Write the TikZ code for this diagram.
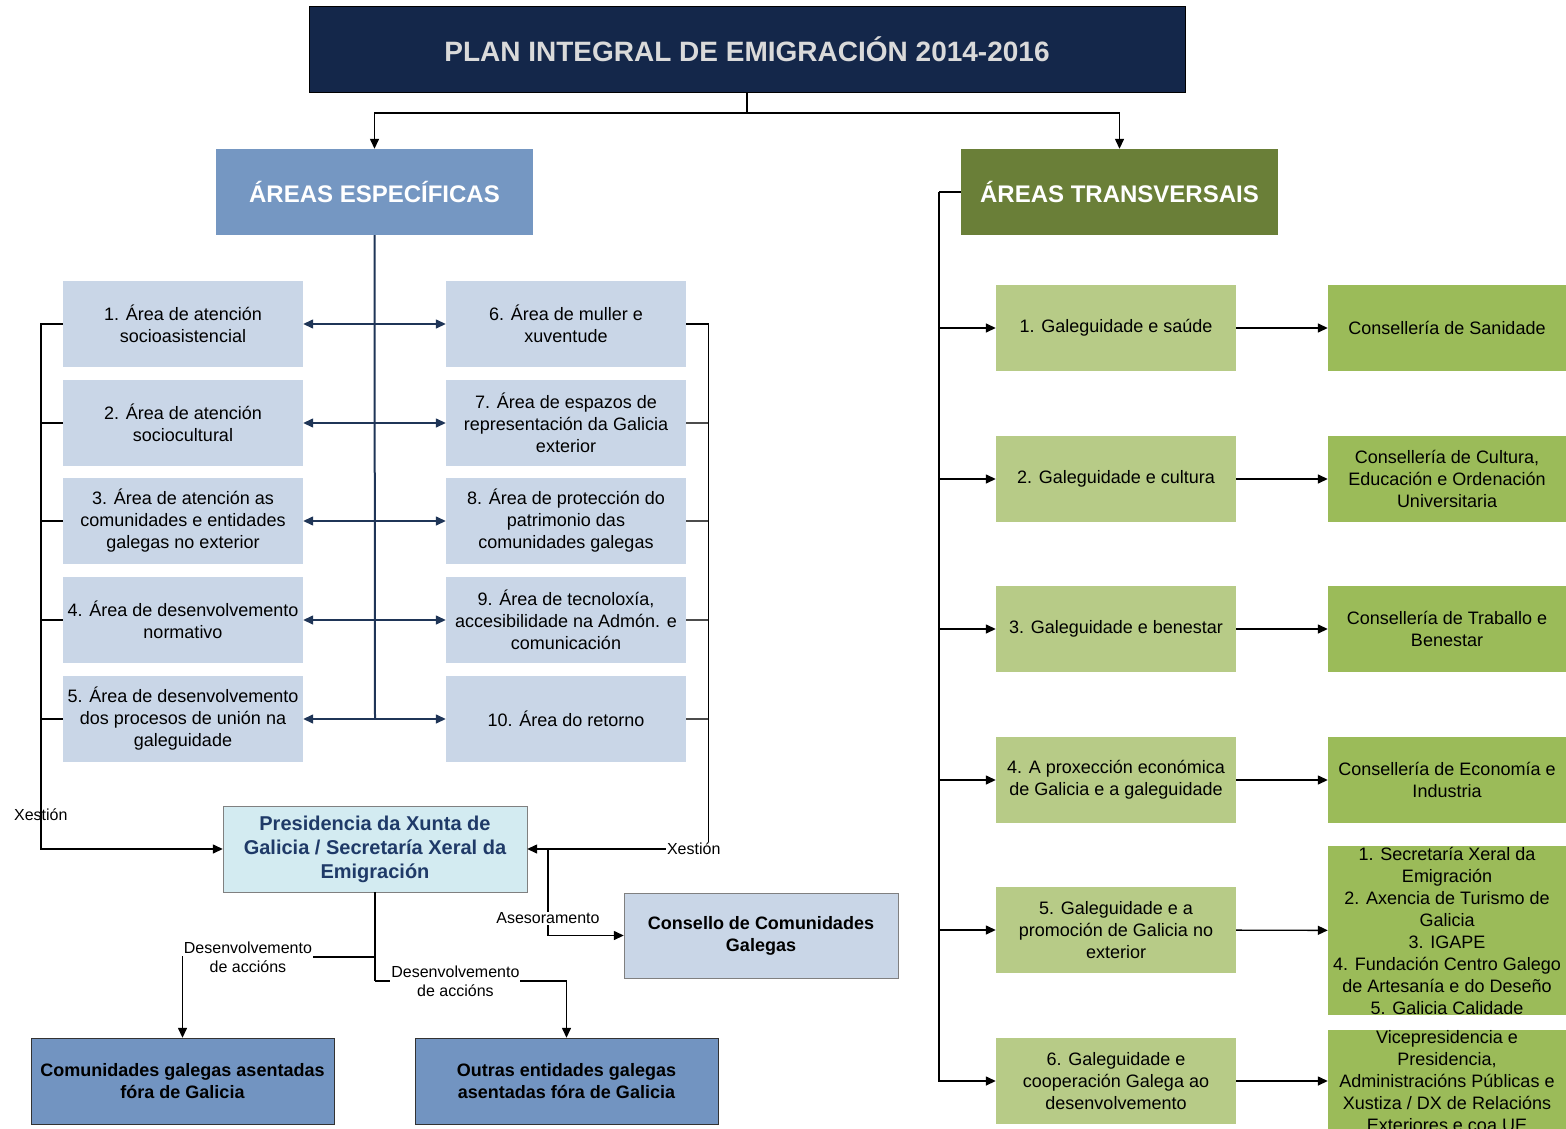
\documentclass[tikz,border=0pt]{standalone}
\usepackage{fontspec}
\setmainfont{Liberation Sans}
\usetikzlibrary{arrows.meta,positioning}
\definecolor{plannavy}{HTML}{14274A}
\definecolor{plangrey}{HTML}{DADADA}
\definecolor{espblue}{HTML}{7597C2}
\definecolor{transgreen}{HTML}{6A7F38}
\definecolor{arealight}{HTML}{C9D6E7}
\definecolor{prescyan}{HTML}{D3EBF1}
\definecolor{presnavy}{HTML}{1F3A68}
\definecolor{comblue}{HTML}{7294C1}
\definecolor{galight}{HTML}{B7CB87}
\definecolor{gadark}{HTML}{9BBB59}
\definecolor{linknavy}{HTML}{1F3557}
\tikzset{%
	titlebox/.style = {draw=black, fill=plannavy, text=plangrey, minimum width=876pt, minimum height=86pt, font=\bfseries\fontsize{28}{32}\selectfont},
	headbox/.style  = {text=white, minimum width=317pt, minimum height=86pt, font=\bfseries\fontsize{24}{28}\selectfont},
	areabox/.style  = {fill=arealight, minimum width=240pt, minimum height=86pt, align=center, inner sep=0pt, font=\fontsize{18}{22}\selectfont},
	presbox/.style  = {draw=gray, fill=prescyan, text=presnavy, minimum width=304pt, minimum height=86pt, align=center, font=\bfseries\fontsize{20}{24}\selectfont},
	actorbox/.style = {draw=black!80, fill=comblue, minimum width=303pt, minimum height=86pt, align=center, font=\bfseries\fontsize{18}{22}\selectfont},
	galebox/.style  = {fill=galight, minimum width=240pt, minimum height=86pt, align=center, inner sep=0pt, font=\fontsize{18}{22}\selectfont},
	consbox/.style  = {fill=gadark, minimum width=238pt, minimum height=86pt, align=center, inner sep=0pt, font=\fontsize{18}{22}\selectfont},
	lbl/.style      = {align=center, inner sep=1pt, font=\fontsize{16}{19}\selectfont},
	link/.style     = {line width=1.4pt},
	spine/.style    = {line width=2pt, draw=linknavy},
}

\begin{document}
\begin{tikzpicture}[x=1pt,y=-1pt,>={Triangle[length=10pt,width=9pt]}]
	\useasboundingbox (0,0) rectangle (1566,1129);

	\node [titlebox] (plan) at (747,49) {PLAN INTEGRAL DE EMIGRACIÓN 2014-2016};
	\node [headbox,fill=espblue] (esp) at (374.5,192) {ÁREAS ESPECÍFICAS};
	\node [headbox,fill=transgreen] (trans) at (1119.5,192) {ÁREAS TRANSVERSAIS};
	\coordinate (fork) at (747,113);

	% areas especificas
	\node [areabox] (a1) at (183,324) {1. Área de atención\\socioasistencial};
	\node [areabox] (a2) at (183,423) {2. Área de atención\\sociocultural};
	\node [areabox] (a3) at (183,521) {3. Área de atención as\\comunidades e entidades\\galegas no exterior};
	\node [areabox] (a4) at (183,620) {4. Área de desenvolvemento\\normativo};
	\node [areabox] (a5) at (183,719) {5. Área de desenvolvemento\\dos procesos de unión na\\galeguidade};
	\node [areabox] (a6) at (566,324) {6. Área de muller e\\xuventude};
	\node [areabox] (a7) at (566,423) {7. Área de espazos de\\representación da Galicia\\exterior};
	\node [areabox] (a8) at (566,521) {8. Área de protección do\\patrimonio das\\comunidades galegas};
	\node [areabox] (a9) at (566,620) {9. Área de tecnoloxía,\\accesibilidade na Admón. e\\comunicación};
	\node [areabox] (a10) at (566,719) {10. Área do retorno};
	\coordinate (spinend) at (375,719);

	\node [presbox] (pres) at (375,849) {Presidencia da Xunta de\\Galicia / Secretaría Xeral da\\Emigración};
	\node [areabox,draw=gray,font=\bfseries\fontsize{18}{22}\selectfont,minimum width=274pt,minimum height=85pt] (cons) at (761,935.5) {Consello de Comunidades\\Galegas};
	\node [actorbox] (comun) at (182.5,1081) {Comunidades galegas asentadas\\fóra de Galicia};
	\node [actorbox] (outras) at (566.5,1081) {Outras entidades galegas\\asentadas fóra de Galicia};
	\coordinate (ases) at (548,849);
	\coordinate (dv1) at (375,957);
	\coordinate (dv2) at (375,981);

	% areas transversais
	\node [galebox] (g1) at (1116,328) {1. Galeguidade e saúde};
	\node [galebox] (g2) at (1116,479) {2. Galeguidade e cultura};
	\node [galebox] (g3) at (1116,629) {3. Galeguidade e benestar};
	\node [galebox] (g4) at (1116,780) {4. A proxección económica\\de Galicia e a galeguidade};
	\node [galebox] (g5) at (1116,930) {5. Galeguidade e a\\promoción de Galicia no\\exterior};
	\node [galebox] (g6) at (1116,1081) {6. Galeguidade e\\cooperación Galega ao\\desenvolvemento};
	\node [consbox] (c1) at (1447,328) {Consellería de Sanidade};
	\node [consbox] (c2) at (1447,479) {Consellería de Cultura,\\Educación e Ordenación\\Universitaria};
	\node [consbox] (c3) at (1447,629) {Consellería de Traballo e\\Benestar};
	\node [consbox] (c4) at (1447,780) {Consellería de Economía e\\Industria};
	\node [consbox,minimum height=169pt] (c5) at (1447,930.5) {1. Secretaría Xeral da\\Emigración\\2. Axencia de Turismo de\\Galicia\\3. IGAPE\\4. Fundación Centro Galego\\de Artesanía e do Deseño\\5. Galicia Calidade};
	\node [consbox,minimum height=102pt] (c6) at (1447,1081) {Vicepresidencia e\\Presidencia,\\Administracións Públicas e\\Xustiza / DX de Relacións\\Exteriores e coa UE};
	\coordinate (tv) at (939,192);

	\draw[link] (plan.south) -- (fork);
	\draw[link,->] (fork) -| (esp.north);
	\draw[link,->] (fork) -| (trans.north);

	\draw[spine] (esp.south) -- (spinend);
	\draw[link,linknavy,<->] (a1.east) -- (a6.west);
	\draw[link,linknavy,<->] (a2.east) -- (a7.west);
	\draw[link,linknavy,<->] (a3.east) -- (a8.west);
	\draw[link,linknavy,<->] (a4.east) -- (a9.west);
	\draw[link,linknavy,<->] (a5.east) -- (a10.west);

	\draw[link,->] (a1.west) -- ++(-22,0) |- node[lbl,pos=0.467] {Xestión} (pres.west);
	\draw[link] (a2.west) -- ++(-22,0);
	\draw[link] (a3.west) -- ++(-22,0);
	\draw[link] (a4.west) -- ++(-22,0);
	\draw[link] (a5.west) -- ++(-22,0);
	\draw[link,->] (a6.east) -- ++(22,0) |- node[lbl,fill=white,pos=0.54] {Xestión} (pres.east);
	\draw[link,black!70] (a7.east) -- ++(22,0);
	\draw[link,black!70] (a8.east) -- ++(22,0);
	\draw[link,black!70] (a9.east) -- ++(22,0);
	\draw[link,black!70] (a10.east) -- ++(22,0);

	\draw[link,->] (ases) |- node[lbl,fill=white,pos=0.4] {Asesoramento} (cons.west);
	\draw[link] (pres.south) -- (dv1) -- (dv2);
	\draw[link,->] (dv1) -| node[lbl,fill=white,pos=0.33] {Desenvolvemento\\de accións} (comun.north);
	\draw[link,->] (dv2) -| node[lbl,fill=white,pos=0.21] {Desenvolvemento\\de accións} (outras.north);

	\draw[link] (trans.west) -- (tv);
	\draw[link,->] (tv) |- (g6.west);
	\draw[link,->] (tv |- g1.west) -- (g1.west);
	\draw[link,->] (tv |- g2.west) -- (g2.west);
	\draw[link,->] (tv |- g3.west) -- (g3.west);
	\draw[link,->] (tv |- g4.west) -- (g4.west);
	\draw[link,->] (tv |- g5.west) -- (g5.west);
	\draw[link,->] (g1) -- (c1);
	\draw[link,->] (g2) -- (c2);
	\draw[link,->] (g3) -- (c3);
	\draw[link,->] (g4) -- (c4);
	\draw[link,->] (g5) -- (c5);
	\draw[link,->] (g6) -- (c6);
\end{tikzpicture}
\end{document}
